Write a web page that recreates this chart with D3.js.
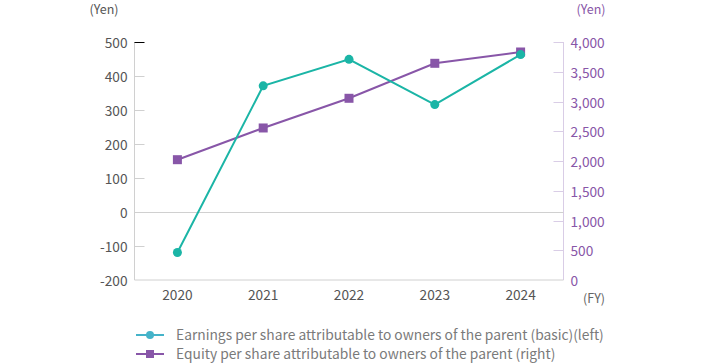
<!DOCTYPE html>
<html><head><meta charset="utf-8">
<script src="https://cdn.jsdelivr.net/npm/d3@7"></script>
<style>body{margin:0;background:#fff;} svg{display:block;font-family:"Noto Sans CJK JP","Noto Sans",sans-serif;}</style>
</head><body><div id="chart"></div>
<script>
const years = ["2020","2021","2022","2023","2024"];
const eps = [-119, 371, 449, 316, 463];
const equity = [2022, 2555, 3054, 3642, 3832];
const leftTicks = [-200,-100,0,100,200,300,400,500];
const rightTicks = [0,500,1000,1500,2000,2500,3000,3500,4000];
const seriesNames = ["Earnings per share attributable to owners of the parent (basic)(left)","Equity per share attributable to owners of the parent (right)"];

const W=704,H=364;
const L=134.5,R=563.5,T=42,B=280;
const teal="#1bb5a6", purple="#8856a8", legendTeal="#45b3c9";
const svg=d3.select("#chart").append("svg").attr("width",W).attr("height",H);
const x=d3.scalePoint().domain(years).range([L,R]).padding(0.5);
const yL=d3.scaleLinear().domain([-200,500]).range([B,T]);
const yR=d3.scaleLinear().domain([0,4000]).range([B,T]);

svg.append("line").attr("x1",L).attr("x2",L).attr("y1",T).attr("y2",B).attr("stroke","#d0d0d0");
svg.append("line").attr("x1",R).attr("x2",R).attr("y1",T).attr("y2",B).attr("stroke","#d9cde6");
svg.append("line").attr("x1",L).attr("x2",R).attr("y1",B).attr("y2",B).attr("stroke","#d0d0d0");
svg.append("line").attr("x1",L).attr("x2",R).attr("y1",Math.round(yL(0))+0.5).attr("y2",Math.round(yL(0))+0.5).attr("stroke","#d0d0d0");

leftTicks.forEach(t=>{
  const yy=Math.round(yL(t))+0.5;
  if(t!==-200 && t!==0) svg.append("line").attr("x1",L).attr("x2",L+10).attr("y1",yy).attr("y2",yy).attr("stroke",t===500?"#000":"#d0d0d0");
  svg.append("text").attr("x",L-7).attr("y",yy+1).attr("dy","0.35em").attr("text-anchor","end")
    .attr("font-size",13.7).attr("fill","#555").text(t);
});
const fmt=d3.format(",");
rightTicks.forEach(t=>{
  const yy=Math.round(yR(t))+0.5;
  if(t!==0) svg.append("line").attr("x1",R-10).attr("x2",R).attr("y1",yy).attr("y2",yy).attr("stroke","#d9cde6");
  svg.append("text").attr("x",R+7).attr("y",yy+1).attr("dy","0.35em").attr("text-anchor","start")
    .attr("font-size",13.7).attr("fill",purple).text(fmt(t));
});
years.forEach(yv=>{
  svg.append("text").attr("x",x(yv)).attr("y",B+15).attr("dy","0.35em").attr("text-anchor","middle").attr("font-size",13.7).attr("fill","#555").text(yv);
});
svg.append("text").attr("x",104).attr("y",10).attr("dy","0.35em").attr("text-anchor","middle").attr("font-size",12.5).attr("fill","#555").text("(Yen)");
svg.append("text").attr("x",591).attr("y",10).attr("dy","0.35em").attr("text-anchor","middle").attr("font-size",12.5).attr("fill",purple).text("(Yen)");
svg.append("text").attr("x",594).attr("y",299).attr("dy","0.35em").attr("text-anchor","middle").attr("font-size",12.5).attr("fill","#666").text("(FY)");

const lineL=d3.line().x((d,i)=>x(years[i])).y(d=>yL(d));
const lineR=d3.line().x((d,i)=>x(years[i])).y(d=>yR(d));
svg.append("path").attr("d",lineR(equity)).attr("fill","none").attr("stroke",purple).attr("stroke-width",2);
svg.append("path").attr("d",lineL(eps)).attr("fill","none").attr("stroke",teal).attr("stroke-width",2);
svg.selectAll(".sq").data(equity).enter().append("rect")
  .attr("x",(d,i)=>x(years[i])-4.5).attr("y",d=>yR(d)-4.5).attr("width",9).attr("height",9).attr("fill",purple);
svg.selectAll(".ci").data(eps).enter().append("circle")
  .attr("cx",(d,i)=>x(years[i])).attr("cy",d=>yL(d)).attr("r",4.5).attr("fill",teal);

const lg=[{c:legendTeal,m:"c",y:335},{c:purple,m:"s",y:354}];
lg.forEach((l,i)=>{
  svg.append("line").attr("x1",136).attr("x2",164).attr("y1",l.y).attr("y2",l.y).attr("stroke",l.c).attr("stroke-width",2);
  if(l.m==="c") svg.append("circle").attr("cx",150).attr("cy",l.y).attr("r",4).attr("fill",l.c);
  else svg.append("rect").attr("x",146).attr("y",l.y-4).attr("width",8).attr("height",8).attr("fill",l.c);
  svg.append("text").attr("x",176).attr("y",l.y).attr("dy","0.35em").attr("font-size",13.8).attr("fill","#7a7a7a").text(seriesNames[i]);
});
</script></body></html>
